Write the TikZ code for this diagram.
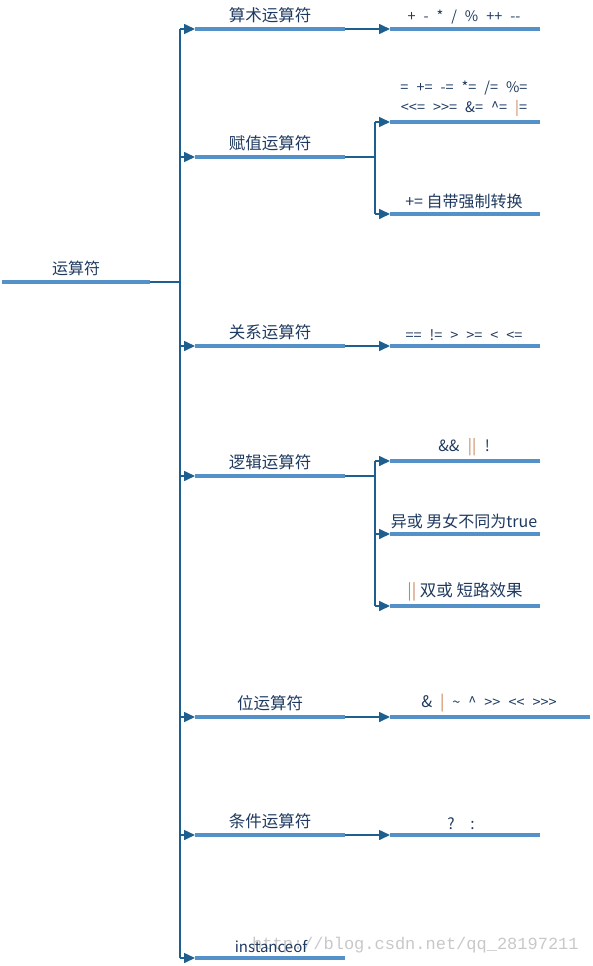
\documentclass[tikz,border=0pt]{standalone}
\usepackage{fontspec}
\setmainfont{Noto Sans CJK SC}
\newfontfamily\opf{Noto Sans CJK SC}
\newfontfamily\wmfont{Liberation Mono}
\usetikzlibrary{arrows.meta}
\definecolor{barc}{HTML}{5591C9}
\definecolor{linec}{HTML}{1D5F8F}
\definecolor{txtc}{HTML}{1F3A60}
\definecolor{orc}{HTML}{C8835A}
\definecolor{wmc}{HTML}{C8C8C8}
\newcommand{\orb}[1]{\textcolor{orc}{#1}}
\newcommand{\opsp}{\hspace{0.55em}}
\begin{document}
\begin{tikzpicture}[x=1pt,y=-1pt,
  bar/.style={barc,line width=4.5pt},
  conn/.style={linec,line width=1.6pt},
  arr/.style={conn,-{Triangle[length=11pt,width=10pt]}},
  lab/.style={anchor=south,text=txtc,font=\fontsize{16.5}{19}\selectfont,inner sep=1pt},
  op/.style={anchor=south,text=txtc,font=\opf\fontsize{14.5}{20}\selectfont,inner sep=1pt,align=center},
  cn/.style={anchor=south,text=txtc,font=\opf\fontsize{16}{20}\selectfont,inner sep=1pt}]
\useasboundingbox (0,0) rectangle (593,966);

% watermark
\node[text=wmc,font=\wmfont\fontsize{17}{20}\selectfont,anchor=west,inner sep=0pt] (wm) at (252,945) {http://blog.csdn.net/qq\_28197211};

% root
\coordinate (r0) at (2,282);
\coordinate (r1) at (150,282);
\coordinate (t) at (180,282);
\draw[bar] (r0) -- (r1);
\node[lab,font=\fontsize{16}{19}\selectfont] (rl) at (76,277) {运算符};
\draw[conn] (r1) -- (t);

% trunk
\coordinate (ttop) at (180,29);
\coordinate (tbot) at (180,958);
\draw[conn] (ttop) -- (tbot);

% level 2 coordinates
\foreach \n/\y in {a/29,b/157,c/346,d/476,e/717,f/835,g/958}{
  \coordinate (\n s) at (180,\y);
  \coordinate (\n 0) at (195,\y);
  \coordinate (\n 1) at (345,\y);
}
\foreach \n in {a,b,c,d,e,f,g}{
  \draw[bar] (\n 0) -- (\n 1);
  \draw[arr] (\n s) -- (\n 0);
}
\node[lab] (al) at (270,24) {算术运算符};
\node[lab] (bl) at (270,152) {赋值运算符};
\node[lab] (cl) at (270,341) {关系运算符};
\node[lab] (dl) at (270,471) {逻辑运算符};
\node[lab] (el) at (270,712) {位运算符};
\node[lab] (fl) at (270,830) {条件运算符};
\node[lab,font=\fontsize{15}{18}\selectfont] (gl) at (271,954) {instanceof};

% 算术
\coordinate (a2) at (390,29);
\coordinate (a3) at (540,29);
\draw[arr] (a1) -- (a2);
\draw[bar] (a2) -- (a3);
\node[op] (ao) at (464,25) {+\opsp -\opsp *\opsp /\opsp \%\opsp ++\opsp --};

% 赋值
\coordinate (bj) at (375,157);
\coordinate (bt) at (375,122);
\coordinate (bb) at (375,214);
\coordinate (b2) at (390,122);
\coordinate (b3) at (540,122);
\coordinate (b4) at (390,214);
\coordinate (b5) at (540,214);
\draw[conn] (b1) -- (bj);
\draw[conn] (bt) -- (bb);
\draw[arr] (bt) -- (b2);
\draw[arr] (bb) -- (b4);
\draw[bar] (b2) -- (b3);
\draw[bar] (b4) -- (b5);
\node[op] (bo1) at (464,118) {=\opsp +=\opsp -=\opsp *=\opsp /=\opsp \%=\\<<=\opsp >>=\opsp \&=\opsp \^{}=\opsp \orb{|}=};
\node[cn] (bo2) at (464,210) {+=\ 自带强制转换};

% 关系
\coordinate (c2) at (390,346);
\coordinate (c3) at (540,346);
\draw[arr] (c1) -- (c2);
\draw[bar] (c2) -- (c3);
\node[op] (co) at (464,342) {==\opsp !=\opsp >\opsp >=\opsp <\opsp <=};

% 逻辑
\coordinate (dj) at (375,476);
\coordinate (dt) at (375,461);
\coordinate (dm) at (375,534);
\coordinate (db) at (375,606);
\coordinate (d2) at (390,461);
\coordinate (d3) at (540,461);
\coordinate (d4) at (390,534);
\coordinate (d5) at (540,534);
\coordinate (d6) at (390,606);
\coordinate (d7) at (540,606);
\draw[conn] (d1) -- (dj);
\draw[conn] (dt) -- (db);
\draw[arr] (dt) -- (d2);
\draw[arr] (dm) -- (d4);
\draw[arr] (db) -- (d6);
\draw[bar] (d2) -- (d3);
\draw[bar] (d4) -- (d5);
\draw[bar] (d6) -- (d7);
\node[op,font=\opf\fontsize{15.5}{20}\selectfont] (do1) at (464,457) {\&\&\opsp \orb{||}\opsp !};
\node[cn] (do2) at (464,530) {异或 男女不同为true};
\node[cn,font=\opf\fontsize{16.5}{20}\selectfont] (do3) at (465,602) {\orb{||} 双或 短路效果};

% 位
\coordinate (e2) at (390,717);
\coordinate (e3) at (590,717);
\draw[arr] (e1) -- (e2);
\draw[bar] (e2) -- (e3);
\node[op] (eo) at (489,713) {{\fontsize{16}{20}\selectfont\&}\opsp {\fontsize{16}{20}\selectfont\orb{|}}\opsp \textasciitilde\opsp \^{}\opsp >>\opsp <<\opsp >>>};

% 条件
\coordinate (f2) at (390,835);
\coordinate (f3) at (540,835);
\draw[arr] (f1) -- (f2);
\draw[bar] (f2) -- (f3);
\node[op,font=\opf\fontsize{15.5}{20}\selectfont] (fo) at (461,831) {?\quad :};
\end{tikzpicture}
\end{document}
